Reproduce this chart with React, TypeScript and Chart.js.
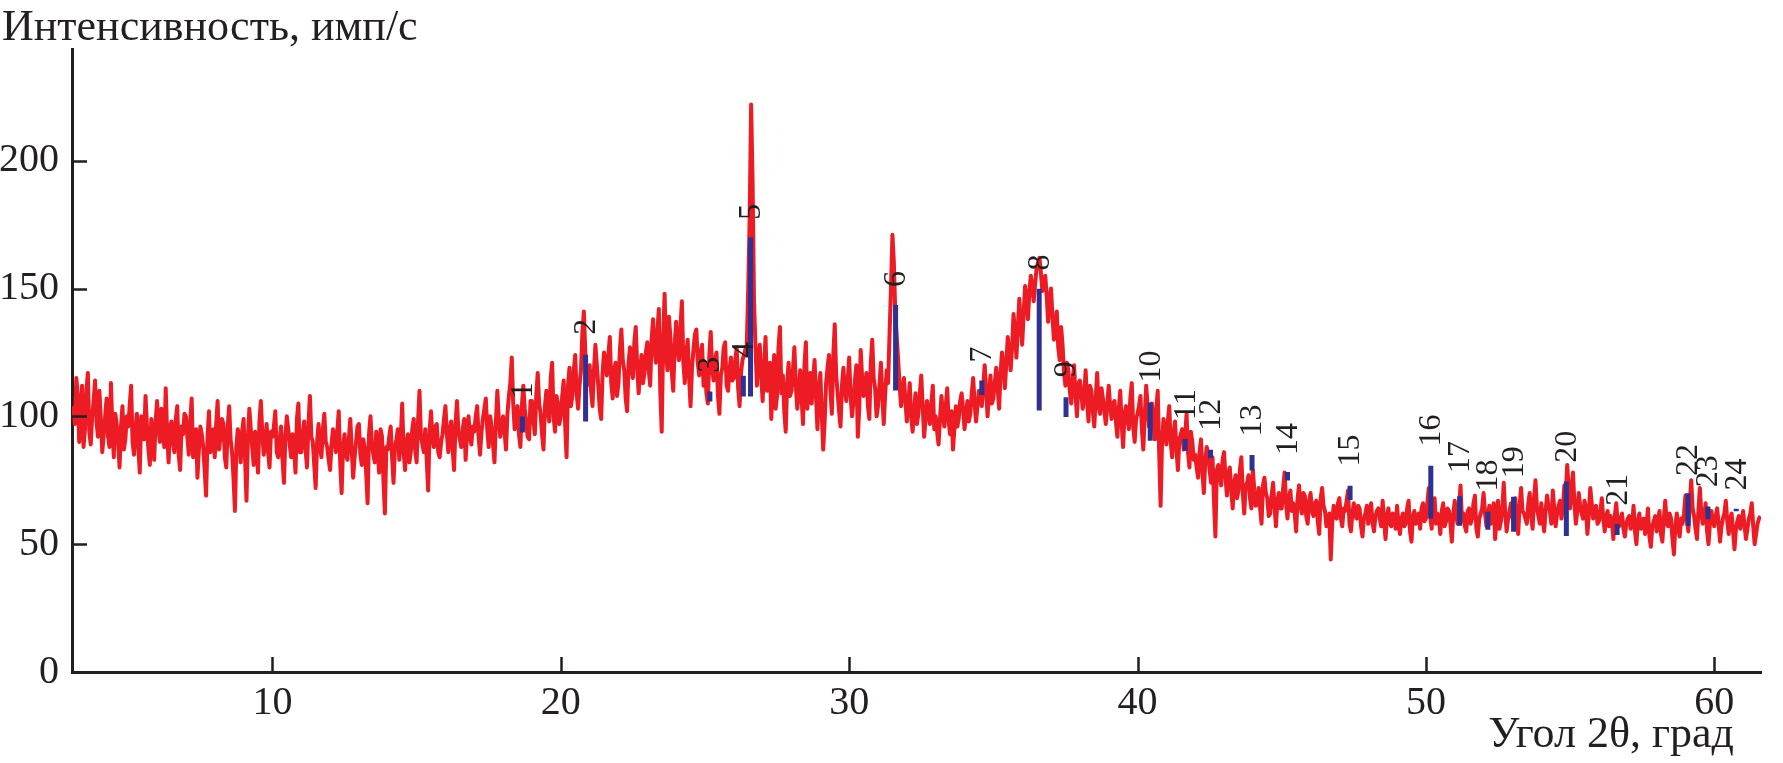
import React, { useEffect, useRef } from "react";
import { Chart, registerables } from "chart.js";

Chart.register(...registerables);

// ---- data ----
// samples at 3.1, 3.2, ... 61.6
const angleStart = 3.1;
const angleStep = 0.1;
const intensity: number[] = [
  104, 115, 90, 112, 95, 117, 89, 106, 98,
  110, 86, 100, 92, 113, 84, 97, 80, 104, 91,
  96, 112, 85, 101, 78, 94, 108, 87, 99, 83,
  106, 90, 95, 111, 82, 98, 86, 104, 79, 93,
  100, 85, 107, 91, 76, 96, 88, 69, 102, 90,
  84, 106, 92, 97, 80, 104, 86, 63, 95, 82,
  99, 67, 103, 88, 94, 78, 106, 85, 97, 80,
  92, 102, 84, 96, 74, 100, 89, 93, 78, 105,
  86, 98, 80, 108, 90, 72, 97, 84, 101, 88,
  79, 95, 86, 102, 70, 93, 83, 99, 76, 90,
  97, 81, 88, 66, 100, 85, 94, 78, 92, 62,
  87, 96, 74, 91, 83, 105, 79, 93, 86, 99,
  82, 110, 89, 95, 71, 102, 88, 97, 84, 93,
  104, 86, 98, 79, 106, 91, 95, 83, 100, 89,
  94, 104, 85, 99, 107, 88, 96, 82, 110, 92,
  100, 87, 108, 123, 95, 104, 88, 112, 98, 91,
  106, 93, 117, 101, 87, 110, 98, 121, 94, 105,
  100, 114, 84, 119, 108, 124, 103, 118, 141, 112,
  120, 104, 128, 112, 99, 125, 116, 131, 107, 121,
  113, 134, 118, 102, 127, 115, 135, 109, 124, 117,
  129, 112, 138, 121, 142, 94, 148, 118, 131, 110,
  137, 122, 145, 113, 130, 104, 126, 134, 116, 128,
  121, 105, 133, 114, 125, 101, 119, 129, 110, 123,
  115, 127, 104, 122, 126, 150, 222, 145, 112, 128,
  106, 131, 113, 99, 124, 108, 135, 116, 94, 121,
  110, 127, 103, 118, 97, 129, 112, 105, 122, 95,
  117, 87, 113, 124, 101, 136, 109, 96, 119, 106,
  123, 100, 114, 92, 126, 108, 117, 99, 130, 111,
  104, 121, 97, 118, 132, 171, 140, 122, 104, 115,
  98, 113, 94, 109, 101, 116, 92, 106, 97, 112,
  100, 89, 108, 96, 111, 93, 87, 104, 99, 109,
  95, 106, 101, 115, 98, 110, 104, 120, 100, 116,
  107, 119, 103, 125, 111, 131, 118, 140, 123, 146,
  128, 151, 138, 155, 145, 158, 162, 149, 155, 137,
  150, 130, 141, 122, 128, 112, 118, 105, 120, 100,
  114, 103, 118, 98, 110, 96, 117, 101, 107, 97,
  112, 99, 106, 92, 110, 88, 104, 95, 113, 90,
  101, 108, 87, 112, 96, 105, 91, 110, 65, 99,
  89, 104, 84, 98, 79, 93, 87, 101, 80, 90,
  85, 76, 91, 70, 88, 79, 84, 53, 81, 73,
  86, 69, 80, 64, 77, 71, 84, 62, 74, 68,
  79, 65, 72, 58, 76, 68, 62, 74, 57, 70,
  64, 78, 60, 71, 66, 55, 73, 62, 69, 58,
  70, 61, 67, 54, 72, 63, 59, 44, 65, 60,
  68, 57, 63, 71, 55, 66, 60, 64, 53, 62,
  58, 66, 55, 63, 60, 67, 52, 64, 57, 61,
  65, 54, 62, 58, 67, 51, 63, 59, 56, 66,
  60, 72, 56, 68, 62, 54, 66, 59, 63, 51,
  67, 58, 73, 62, 55, 64, 60, 69, 53, 62,
  70, 57, 65, 61, 52, 67, 59, 74, 55, 63,
  60, 68, 54, 72, 62, 58, 70, 56, 75, 61,
  66, 55, 69, 63, 71, 57, 65, 60, 73, 81,
  64, 78, 58, 70, 62, 67, 54, 72, 60, 65,
  59, 68, 55, 63, 61, 52, 66, 57, 62, 53,
  60, 56, 65, 50, 62, 58, 54, 64, 49, 59,
  55, 63, 51, 67, 57, 60, 46, 62, 53, 58,
  69, 55, 75, 61, 52, 72, 58, 66, 50, 63,
  57, 64, 51, 60, 67, 54, 62, 48, 59, 56,
  63, 52, 60, 66, 50, 58, 61,
];

// in-between samples at 3.15, 3.25, ... 61.55
const midStart = 3.15;
const intensityMid: number[] = [
  97, 108, 101, 88, 110, 94, 100, 114, 92,
  99, 93, 107, 88, 96, 101, 90, 96, 87, 100,
  104, 90, 95, 88, 100, 91, 96, 81, 92, 98,
  95, 103, 88, 93, 96, 90, 99, 85, 96, 101,
  92, 98, 84, 95, 87, 93, 79, 92, 86, 95,
  97, 87, 99, 84, 96, 91, 76, 88, 91, 94,
  84, 91, 95, 81, 89, 98, 93, 90, 86, 94,
  96, 86, 90, 83, 92, 95, 84, 88, 99, 86,
  93, 87, 97, 92, 81, 90, 88, 95, 90, 83,
  89, 92, 94, 82, 88, 85, 91, 87, 84, 96,
  85, 91, 78, 93, 89, 82, 86, 95, 75, 88,
  92, 84, 88, 95, 91, 86, 90, 82, 95, 87,
  98, 92, 86, 83, 94, 91, 96, 86, 90, 99,
  93, 95, 87, 97, 94, 88, 99, 93, 92, 96,
  100, 92, 94, 103, 95, 100, 89, 98, 99, 96,
  94, 101, 113, 105, 99, 93, 104, 103, 92, 106,
  98, 108, 105, 93, 104, 102, 115, 100, 108, 97,
  108, 97, 112, 104, 118, 109, 112, 133, 125, 117,
  110, 118, 120, 103, 117, 121, 124, 113, 118, 108,
  126, 122, 107, 121, 118, 129, 119, 118, 113, 125,
  118, 130, 126, 133, 110, 130, 124, 139, 117, 128,
  126, 135, 121, 124, 115, 119, 132, 121, 125, 112,
  109, 124, 118, 122, 108, 116, 127, 112, 118, 114,
  122, 111, 117, 124, 128, 178, 192, 128, 121, 116,
  119, 110, 121, 114, 103, 127, 109, 102, 113, 108,
  118, 112, 109, 107, 120, 103, 117, 114, 108, 111,
  101, 98, 119, 110, 124, 116, 102, 112, 110, 114,
  108, 106, 120, 103, 115, 112, 104, 121, 115, 100,
  112, 108, 109, 113, 150, 160, 131, 112, 110, 106,
  105, 100, 102, 97, 109, 104, 99, 101, 105, 95,
  94, 99, 101, 104, 98, 102, 95, 96, 106, 103,
  100, 98, 109, 105, 104, 108, 112, 110, 109, 105,
  113, 111, 117, 120, 121, 125, 127, 133, 135, 136,
  140, 146, 149, 150, 152, 160, 156, 153, 147, 146,
  139, 136, 127, 135, 117, 121, 110, 114, 108, 113,
  109, 108, 106, 112, 102, 107, 104, 111, 102, 105,
  104, 105, 98, 103, 97, 101, 99, 107, 96, 99,
  104, 95, 100, 104, 100, 98, 103, 86, 90, 94,
  98, 90, 93, 87, 91, 95, 92, 86, 94, 83,
  80, 86, 78, 83, 85, 74, 67, 79, 77, 83,
  76, 78, 71, 74, 68, 79, 70, 73, 77, 64,
  71, 66, 64, 73, 70, 61, 69, 65, 67, 64,
  72, 66, 68, 63, 62, 68, 65, 70, 61, 67,
  63, 66, 59, 68, 65, 57, 62, 58, 61, 66,
  60, 64, 67, 58, 62, 61, 65, 57, 60, 65,
  63, 58, 61, 64, 57, 59, 61, 58, 62, 56,
  58, 60, 57, 64, 55, 61, 58, 62, 64, 59,
  66, 61, 65, 58, 60, 63, 57, 64, 58, 62,
  61, 64, 59, 57, 63, 58, 66, 56, 60, 64,
  62, 61, 58, 66, 60, 56, 64, 62, 60, 66,
  64, 59, 65, 63, 60, 66, 61, 68, 64, 58,
  60, 63, 65, 58, 64, 62, 67, 64, 70, 72,
  72, 66, 63, 65, 60, 64, 62, 66, 64, 58,
  63, 60, 61, 57, 59, 61, 58, 60, 56, 58,
  61, 57, 55, 59, 56, 60, 57, 53, 57, 61,
  59, 54, 60, 58, 62, 52, 57, 56, 60, 62,
  60, 66, 64, 56, 63, 62, 61, 55, 58, 59,
  61, 58, 57, 62, 59, 60, 55, 56, 61, 59,
  57, 56, 62, 57, 54, 60,
];

const peakNumbers = [1, 2, 3, 4, 5, 6, 7, 8, 9, 10, 11, 12, 13, 14, 15, 16, 17, 18, 19, 20, 21, 22, 23, 24];
const peakAngles = [18.67, 20.86, 25.17, 26.33, 26.58, 31.61, 34.6, 36.59, 37.52, 40.44, 41.65, 42.53, 43.97, 45.2, 47.37, 50.17, 51.17, 52.15, 53.04, 54.87, 56.63, 59.09, 59.78, 60.76];
const peakLow = [93.7, 98, 105.8, 107.8, 107.8, 110.1, 108.4, 102.3, 99.7, 90.5, 86.5, 83.6, 78.8, 74.9, 67.3, 59.9, 57.2, 55.6, 54.9, 53.2, 53.6, 57.1, 59.8, 62.9];
const peakHigh = [99.9, 124.1, 109.7, 115.9, 170.1, 143.6, 114, 149.9, 107.5, 105.4, 91.1, 86.9, 84.9, 78.2, 72.9, 80.7, 68.7, 62.7, 68.6, 74.5, 57.9, 69.9, 64.7, 63.9];
const peakLabelBase = [107.1, 131.9, 117.1, 122.8, 176.9, 150.6, 121.1, 157.1, 115.3, 113.2, 98.6, 94.4, 92.1, 84.9, 80.4, 88.2, 77.8, 70.6, 75.8, 81.9, 65, 76.7, 72.3, 71];

const xTicks = [10, 20, 30, 40, 50, 60];
const yTicks = [0, 50, 100, 150, 200];

const xMin = 3.05;
const xMax = 61.62;
const yMin = 0;
const yMax = 243.7;

const yTitle = "Интенсивность, имп/с";
const xTitle = "Угол 2θ, град";

// ---- styles ----
const RED = "#ed1c24";
const BLUE = "#2e3192";
const INK = "#231f20";
const FONT = "'Liberation Serif', 'DejaVu Serif', serif";

export default function App() {
  const canvasRef = useRef<HTMLCanvasElement | null>(null);

  useEffect(() => {
    document.body.style.margin = "0";
    const canvas = canvasRef.current;
    if (!canvas) return;

    const linePoints = [
      ...intensity.map((v, i) => ({ x: +(angleStart + i * angleStep).toFixed(2), y: v })),
      ...intensityMid.map((v, i) => ({ x: +(midStart + i * angleStep).toFixed(2), y: v })),
    ].sort((a, b) => a.x - b.x);

    const barPoints: { x: number; y: number | null }[] = [];
    peakAngles.forEach((a, i) => {
      barPoints.push({ x: a, y: peakLow[i] });
      barPoints.push({ x: a, y: peakHigh[i] });
      barPoints.push({ x: a, y: null });
    });

    const decorPlugin = {
      id: "decor",
      afterDatasetsDraw(chart: any) {
        const { ctx, scales } = chart;
        const xs = scales.x;
        const ys = scales.y;
        ctx.save();
        ctx.fillStyle = INK;
        ctx.font = `32px ${FONT}`;
        ctx.textAlign = "left";
        ctx.textBaseline = "middle";
        peakNumbers.forEach((n, i) => {
          const px = xs.getPixelForValue(peakAngles[i]);
          const py = ys.getPixelForValue(peakLabelBase[i]);
          ctx.save();
          ctx.translate(px + 1, py);
          ctx.rotate(-Math.PI / 2);
          ctx.fillText(String(n), 0, 0);
          ctx.restore();
        });
        ctx.restore();
      },
      afterDraw(chart: any) {
        const { ctx, chartArea, scales } = chart;
        const xs = scales.x;
        const ys = scales.y;
        ctx.save();
        ctx.strokeStyle = INK;
        ctx.lineWidth = 2.5;
        ctx.beginPath();
        xTicks.forEach((v) => {
          const px = Math.round(xs.getPixelForValue(v)) + 0.5;
          ctx.moveTo(px, chartArea.bottom);
          ctx.lineTo(px, chartArea.bottom - 15);
        });
        yTicks.forEach((v) => {
          if (v === yMin) return;
          const py = Math.round(ys.getPixelForValue(v)) + 0.5;
          ctx.moveTo(chartArea.left, py);
          ctx.lineTo(chartArea.left + 15, py);
        });
        ctx.stroke();

        ctx.fillStyle = INK;
        ctx.font = `44px ${FONT}`;
        ctx.textBaseline = "alphabetic";
        ctx.textAlign = "left";
        ctx.fillText(yTitle, 2, 40);
        ctx.textAlign = "right";
        ctx.fillText(xTitle, 1734, 747);
        ctx.restore();
      },
    };

    const chart = new Chart(canvas, {
      type: "line",
      data: {
        datasets: [
          {
            label: "peaks",
            data: barPoints as any,
            borderColor: BLUE,
            backgroundColor: BLUE,
            borderWidth: 5,
            borderCapStyle: "butt",
            pointRadius: 0,
            spanGaps: false,
            tension: 0,
            order: 0,
          },
          {
            label: "intensity",
            data: linePoints as any,
            borderColor: RED,
            backgroundColor: RED,
            borderWidth: 4,
            borderJoinStyle: "round",
            pointRadius: 0,
            tension: 0,
            order: 1,
          },
        ],
      },
      options: {
        animation: false,
        responsive: false,
        devicePixelRatio: 1,
        layout: { padding: { top: 49, right: 22, left: 0, bottom: 0 } },
        plugins: {
          legend: { display: false },
          tooltip: { enabled: false },
          title: { display: false },
        },
        scales: {
          x: {
            type: "linear",
            min: xMin,
            max: xMax,
            offset: false,
            grid: { display: false, drawTicks: false },
            border: { display: true, color: INK, width: 3 },
            afterBuildTicks: (scale: any) => {
              scale.ticks = xTicks.map((v) => ({ value: v }));
            },
            afterFit: (scale: any) => {
              scale.height = 91;
            },
            ticks: {
              autoSkip: false,
              maxRotation: 0,
              padding: 7,
              color: INK,
              font: { family: FONT, size: 40 },
            },
          },
          y: {
            type: "linear",
            min: yMin,
            max: yMax,
            grid: { display: false, drawTicks: false },
            border: { display: true, color: INK, width: 3 },
            afterBuildTicks: (scale: any) => {
              scale.ticks = yTicks.map((v) => ({ value: v }));
            },
            afterFit: (scale: any) => {
              scale.width = 72;
            },
            ticks: {
              padding: 13,
              color: INK,
              font: { family: FONT, size: 40 },
            },
          },
        },
      },
      plugins: [decorPlugin],
    });

    return () => {
      chart.destroy();
    };
  }, []);

  return (
    <div style={{ width: 1783, height: 763, background: "#ffffff" }}>
      <canvas ref={canvasRef} width={1783} height={763} style={{ display: "block", width: 1783, height: 763 }} />
    </div>
  );
}
